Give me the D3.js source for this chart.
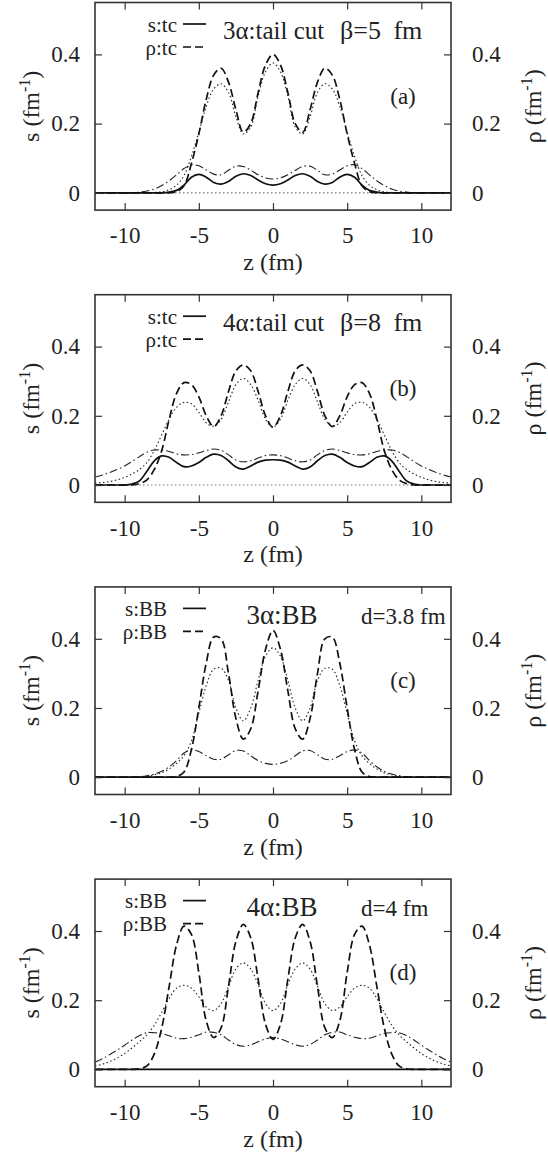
<html>
<head>
<script src="https://cdn.jsdelivr.net/npm/d3@7"></script>
<style>
  body { margin: 0; background: #fff; }
  text { font-family: "Liberation Serif", "Times New Roman", serif; fill: #222; }
</style>
</head>
<body>
<svg id="chart"></svg>
<script>
// z grid (fm) shared by every curve
const zGrid = [-12,-11.5,-11,-10.5,-10,-9.5,-9,-8.5,-8,-7.5,-7,-6.5,-6,-5.5,-5,-4.5,-4,-3.5,-3,-2.5,-2,-1.5,-1,-0.5,0,0.5,1,1.5,2,2.5,3,3.5,4,4.5,5,5.5,6,6.5,7,7.5,8,8.5,9,9.5,10,10.5,11,11.5,12];

const xTicks = [-10, -5, 0, 5, 10];
const xTickLabels = ["-10", "-5", "0", "5", "10"];
const yTicks = [0, 0.2, 0.4];
const yTickLabels = ["0", "0.2", "0.4"];

const zeros = [0,0,0,0,0,0,0,0,0,0,0,0,0,0,0,0,0,0,0,0,0,0,0,0,0,0,0,0,0,0,0,0,0,0,0,0,0,0,0,0,0,0,0,0,0,0,0,0,0];

// (a) 3 alpha, tail cut, beta = 5 fm
const aDashed = [0,0,0,0,0,0,0,0,0,0,0,0.003,0.02,0.085,0.17,0.27,0.34,0.36,0.32,0.24,0.175,0.20,0.29,0.37,0.40,0.37,0.29,0.20,0.175,0.24,0.32,0.36,0.34,0.27,0.17,0.085,0.02,0.003,0,0,0,0,0,0,0,0,0,0,0];
const aDotted = [0,0,0,0,0,0,0,0,0.001,0.003,0.009,0.022,0.05,0.105,0.175,0.25,0.30,0.315,0.29,0.22,0.17,0.19,0.28,0.35,0.375,0.35,0.28,0.19,0.17,0.22,0.29,0.315,0.30,0.25,0.175,0.105,0.05,0.022,0.009,0.003,0.001,0,0,0,0,0,0,0,0];
const aDashDot = [0,0,0,0,0,0,0.002,0.005,0.011,0.021,0.035,0.052,0.07,0.081,0.078,0.066,0.054,0.052,0.065,0.077,0.076,0.065,0.052,0.043,0.04,0.043,0.052,0.065,0.076,0.077,0.065,0.052,0.054,0.066,0.078,0.081,0.07,0.052,0.035,0.021,0.011,0.005,0.002,0,0,0,0,0,0];
const aSolid = [0,0,0,0,0,0,0,0,0,0,0.002,0.007,0.022,0.045,0.053,0.045,0.03,0.025,0.033,0.048,0.055,0.05,0.037,0.026,0.022,0.026,0.037,0.05,0.055,0.048,0.033,0.025,0.03,0.045,0.053,0.045,0.022,0.007,0.002,0,0,0,0,0,0,0,0,0,0];

// (b) 4 alpha, tail cut, beta = 8 fm
const bDashed = [0,0,0,0,0,0,0.004,0.015,0.045,0.10,0.19,0.265,0.296,0.29,0.255,0.2,0.169,0.2,0.27,0.33,0.347,0.33,0.27,0.2,0.167,0.2,0.27,0.33,0.347,0.33,0.27,0.2,0.169,0.2,0.255,0.29,0.296,0.265,0.19,0.10,0.045,0.015,0.004,0,0,0,0,0,0];
const bDotted = [0.005,0.007,0.01,0.015,0.022,0.032,0.045,0.065,0.1,0.145,0.19,0.225,0.239,0.235,0.21,0.18,0.17,0.19,0.24,0.29,0.308,0.29,0.245,0.19,0.167,0.19,0.245,0.29,0.308,0.29,0.24,0.19,0.17,0.18,0.21,0.235,0.239,0.225,0.19,0.145,0.1,0.065,0.045,0.032,0.022,0.015,0.01,0.007,0.005];
const bDashDot = [0.023,0.029,0.036,0.045,0.055,0.068,0.082,0.095,0.101,0.101,0.097,0.09,0.087,0.088,0.093,0.1,0.104,0.1,0.087,0.072,0.067,0.07,0.078,0.085,0.087,0.085,0.078,0.07,0.067,0.072,0.087,0.1,0.104,0.1,0.093,0.088,0.087,0.09,0.097,0.101,0.101,0.095,0.082,0.068,0.055,0.045,0.036,0.029,0.023];
const bSolid = [0,0,0,0,0,0.003,0.012,0.04,0.07,0.084,0.08,0.065,0.053,0.055,0.065,0.08,0.089,0.085,0.07,0.052,0.046,0.055,0.066,0.072,0.073,0.072,0.066,0.055,0.046,0.052,0.07,0.085,0.089,0.08,0.065,0.055,0.053,0.065,0.08,0.084,0.07,0.04,0.012,0.003,0,0,0,0,0];

// (c) 3 alpha, BB, d = 3.8 fm
const cDashed = [0,0,0,0,0,0,0,0,0,0,0,0.002,0.015,0.08,0.2,0.33,0.405,0.4,0.3,0.17,0.11,0.14,0.25,0.37,0.424,0.37,0.25,0.14,0.11,0.17,0.3,0.4,0.405,0.33,0.2,0.08,0.015,0.002,0,0,0,0,0,0,0,0,0,0,0];
const cDotted = [0,0,0,0,0,0,0.001,0.003,0.007,0.013,0.024,0.04,0.062,0.105,0.185,0.265,0.312,0.315,0.28,0.2,0.163,0.2,0.28,0.35,0.374,0.35,0.28,0.2,0.163,0.2,0.28,0.315,0.312,0.265,0.185,0.105,0.062,0.04,0.024,0.013,0.007,0.003,0.001,0,0,0,0,0,0];
const cDashDot = [0,0,0,0,0,0,0.001,0.004,0.009,0.017,0.03,0.048,0.07,0.079,0.074,0.062,0.052,0.052,0.065,0.077,0.076,0.062,0.048,0.04,0.037,0.04,0.048,0.062,0.076,0.077,0.065,0.052,0.052,0.062,0.074,0.079,0.07,0.048,0.03,0.017,0.009,0.004,0.001,0,0,0,0,0,0];
const cSolid = zeros;

// (d) 4 alpha, BB, d = 4 fm
const dDashed = [0,0,0,0,0,0,0.002,0.01,0.045,0.12,0.24,0.36,0.414,0.39,0.28,0.14,0.092,0.12,0.24,0.37,0.419,0.38,0.26,0.13,0.087,0.13,0.26,0.38,0.419,0.37,0.24,0.12,0.092,0.14,0.28,0.39,0.414,0.36,0.24,0.12,0.045,0.01,0.002,0,0,0,0,0,0];
const dDotted = [0.01,0.015,0.023,0.033,0.046,0.062,0.08,0.1,0.128,0.165,0.205,0.235,0.243,0.235,0.21,0.18,0.17,0.19,0.24,0.29,0.308,0.29,0.245,0.19,0.17,0.19,0.245,0.29,0.308,0.29,0.24,0.19,0.17,0.18,0.21,0.235,0.243,0.235,0.205,0.165,0.128,0.1,0.08,0.062,0.046,0.033,0.023,0.015,0.01];
const dDashDot = [0.021,0.031,0.043,0.056,0.07,0.085,0.098,0.106,0.106,0.104,0.097,0.09,0.089,0.093,0.1,0.108,0.107,0.1,0.085,0.072,0.067,0.071,0.08,0.088,0.092,0.088,0.08,0.071,0.067,0.072,0.085,0.1,0.107,0.108,0.1,0.093,0.089,0.09,0.097,0.104,0.106,0.106,0.098,0.085,0.07,0.056,0.043,0.031,0.021];
const dSolid = zeros;

const panelTags = ["(a)", "(b)", "(c)", "(d)"];
const legendLabels = [["s:tc", "ρ:tc"], ["s:tc", "ρ:tc"], ["s:BB", "ρ:BB"], ["s:BB", "ρ:BB"]];
const titleLeft = ["3α:tail cut", "4α:tail cut", "3α:BB", "4α:BB"];
const titleRight = ["β=5 fm", "β=8 fm", "d=3.8 fm", "d=4 fm"];

const panels = [
  { dotted: aDotted, dashDot: aDashDot, dashed: aDashed, solid: aSolid },
  { dotted: bDotted, dashDot: bDashDot, dashed: bDashed, solid: bSolid },
  { dotted: cDotted, dashDot: cDashDot, dashed: cDashed, solid: cSolid },
  { dotted: dDotted, dashDot: dDashDot, dashed: dDashed, solid: dSolid }
];

const styles = {
  zero:    { stroke: "#777", width: 1.2, dash: "1.5,2.5" },
  dotted:  { stroke: "#222", width: 1.1, dash: "1.5,2.5" },
  dashDot: { stroke: "#222", width: 1.1, dash: "8,3,1.5,3" },
  dashed:  { stroke: "#111", width: 1.7, dash: "8,4" },
  solid:   { stroke: "#111", width: 1.7, dash: null }
};

let width = 548, height = 1158;
let left = 95, right = 451, plotH = 207.6, step = 292.2;

let svg = d3.select("#chart").attr("width", width).attr("height", height);

let x = d3.scaleLinear().domain([-12, 12]).range([left, right]);

function drawPanel(p, i) {
  let top = 2.5 + i * step;
  let bottom = top + plotH;
  let y = d3.scaleLinear().domain([-0.05, 0.55]).range([bottom, top]);
  let g = svg.append("g");

  g.append("clipPath").attr("id", "clip" + i)
    .append("rect").attr("x", left).attr("y", top).attr("width", right - left).attr("height", plotH);

  let line = d3.line()
    .x((d, k) => x(zGrid[k]))
    .y(d => y(d))
    .curve(d3.curveCatmullRom);

  let curves = g.append("g").attr("clip-path", `url(#clip${i})`);
  [["zero", zeros], ["dotted", p.dotted], ["dashDot", p.dashDot], ["dashed", p.dashed], ["solid", p.solid]]
    .forEach(([key, vals]) => {
      let s = styles[key];
      curves.append("path")
        .attr("d", line(vals))
        .attr("fill", "none")
        .attr("stroke", s.stroke)
        .attr("stroke-width", s.width)
        .attr("stroke-dasharray", s.dash);
    });

  // axes, ticks pointing inwards on all four sides
  let fmtX = d => xTickLabels[xTicks.indexOf(d)];
  let fmtY = d => yTickLabels[yTicks.indexOf(d)];
  let axes = [
    [d3.axisBottom(x).tickValues(xTicks).tickFormat(fmtX).tickPadding(17), `translate(0,${bottom})`],
    [d3.axisTop(x).tickValues(xTicks).tickFormat(""), `translate(0,${top})`],
    [d3.axisLeft(y).tickValues(yTicks).tickFormat(fmtY).tickPadding(15), `translate(${left},0)`],
    [d3.axisRight(y).tickValues(yTicks).tickFormat(fmtY).tickPadding(21), `translate(${right},0)`]
  ];
  axes.forEach(([ax, tr]) => {
    let a = g.append("g").attr("transform", tr)
      .call(ax.tickSizeInner(-7).tickSizeOuter(0))
      .attr("font-size", 23)
      .attr("font-family", "Liberation Serif, serif")
      .attr("color", "#333");
    a.select(".domain").remove();
    a.selectAll(".tick line").attr("stroke-width", 1.2);
    a.selectAll(".tick text").attr("fill", "#222");
  });

  g.append("rect")
    .attr("x", left).attr("y", top).attr("width", right - left).attr("height", plotH)
    .attr("fill", "none").attr("stroke", "#333").attr("stroke-width", 1.6);

  // axis titles
  g.append("text").attr("x", (left + right) / 2).attr("y", bottom + 60)
    .attr("text-anchor", "middle").attr("font-size", 24).text("z (fm)");

  let midY = top + plotH / 2;
  [["s", 39], ["ρ", 541]].forEach(([sym, xp]) => {
    let t = g.append("text")
      .attr("transform", `translate(${xp},${midY}) rotate(-90)`)
      .attr("text-anchor", "middle").attr("font-size", 24);
    t.append("tspan").text(sym + " (fm");
    t.append("tspan").attr("dy", -9).attr("font-size", 16).text("-1");
    t.append("tspan").attr("dy", 9).text(")");
  });

  // legend
  let legX = i < 2 ? 177 : 167;
  let styleKeys = ["solid", "dashed"];
  legendLabels[i].forEach((lab, k) => {
    let base = top + 29 + k * 23;
    g.append("text").attr("x", legX).attr("y", base)
      .attr("text-anchor", "end").attr("font-size", 21).text(lab);
    let s = styles[styleKeys[k]];
    g.append("line")
      .attr("x1", 183).attr("x2", 206).attr("y1", base - 7.5).attr("y2", base - 7.5)
      .attr("stroke", s.stroke).attr("stroke-width", s.width).attr("stroke-dasharray", s.dash);
  });

  // titles
  if (i < 2) {
    g.append("text").attr("x", 223).attr("y", top + 36).attr("font-size", 25).text(titleLeft[i]);
    g.append("text").attr("x", 340).attr("y", top + 36).attr("font-size", 26)
      .attr("word-spacing", 6).text(titleRight[i]);
  } else {
    g.append("text").attr("x", 282).attr("y", top + 37).attr("text-anchor", "middle").attr("font-size", 27).text(titleLeft[i]);
    g.append("text").attr("x", 361).attr("y", top + 37).attr("font-size", 23).text(titleRight[i]);
  }

  g.append("text").attr("x", 403).attr("y", top + 101)
    .attr("text-anchor", "middle").attr("font-size", 23).text(panelTags[i]);
}

panels.forEach(drawPanel);
</script>
</body>
</html>
